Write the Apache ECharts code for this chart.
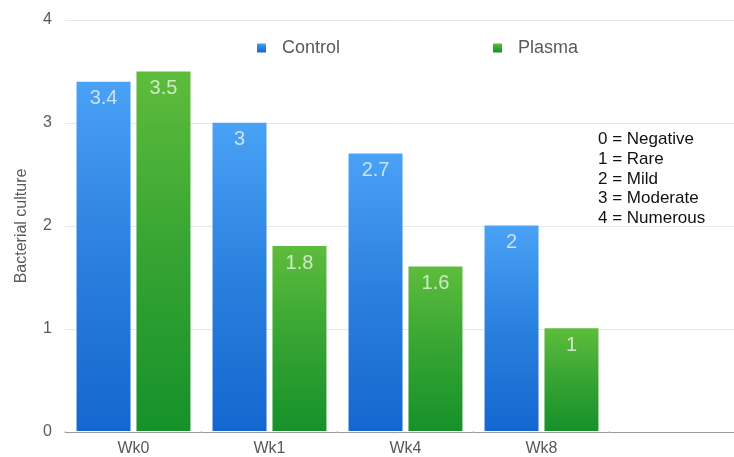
<!DOCTYPE html>
<html>
<head>
<meta charset="utf-8">
<script src="https://cdn.jsdelivr.net/npm/echarts@6/dist/echarts.min.js"></script>
<style>
  html, body { margin: 0; padding: 0; background: #fff; }
  #chart { width: 734px; height: 457px; }
</style>
</head>
<body>
<div id="chart"></div>
<script>
// Weeks of treatment
var categories = ['Wk0', 'Wk1', 'Wk4', 'Wk8'];
var controlValues = [3.4, 3, 2.7, 2];
var plasmaValues = [3.5, 1.8, 1.6, 1];
var yTicks = [0, 1, 2, 3, 4];
var scaleKey = ['0 = Negative', '1 = Rare', '2 = Mild', '3 = Moderate', '4 = Numerous'];

var FONT = '"Liberation Sans", Arial, Helvetica, sans-serif';
var LABEL_GREY = '#5a5a5a';

function grad(top, mid, bottom) {
  return new echarts.graphic.LinearGradient(0, 0, 0, 1, [
    { offset: 0, color: top },
    { offset: 0.5, color: mid },
    { offset: 1, color: bottom }
  ]);
}

var valueLabel = {
  show: true,
  position: 'insideTop',
  distance: 7,
  color: 'rgba(255,255,255,0.7)',
  fontFamily: FONT,
  fontSize: 20
};

var legendText = { fontFamily: FONT, fontSize: 18, color: LABEL_GREY, padding: [0, 0, 0, 11] };

var yMin = yTicks[0];
var yMax = yTicks[yTicks.length - 1];

var chart = echarts.init(document.getElementById('chart'), null, { renderer: 'canvas' });
chart.setOption({
  animation: false,
  backgroundColor: '#fff',
  // grid 0: full-width frame with value labels and gridlines
  // grid 1: the bar area, leaving an empty stretch on the right
  grid: [
    { left: 65, right: 0, top: 20, bottom: 25, containLabel: false },
    { left: 65.5, width: 544, top: 20, bottom: 25, containLabel: false }
  ],
  legend: [
    {
      data: ['Control'], left: 257, top: 39, padding: 0,
      icon: 'rect', itemWidth: 9, itemHeight: 9,
      textStyle: legendText
    },
    {
      data: ['Plasma'], left: 493, top: 39, padding: 0,
      icon: 'rect', itemWidth: 9, itemHeight: 9,
      textStyle: legendText
    }
  ],
  xAxis: [
    {
      gridIndex: 0,
      type: 'value',
      min: 0,
      max: 1,
      axisLine: { show: true, onZero: false, lineStyle: { color: '#9a9a9a', width: 1 } },
      axisTick: { show: false },
      axisLabel: { show: false },
      splitLine: { show: false }
    },
    {
      gridIndex: 1,
      type: 'category',
      data: categories,
      axisLine: { show: false },
      axisTick: { show: true, length: 2, lineStyle: { color: '#bbb' } },
      axisLabel: { fontFamily: FONT, fontSize: 16, color: LABEL_GREY, margin: 10 }
    }
  ],
  yAxis: [
    {
      gridIndex: 0,
      type: 'value',
      min: yMin,
      max: yMax,
      interval: 1,
      name: 'Bacterial culture',
      nameLocation: 'middle',
      nameGap: 35,
      nameTextStyle: { fontFamily: FONT, fontSize: 16, color: LABEL_GREY },
      axisLine: { show: false },
      axisTick: { show: false },
      axisLabel: { fontFamily: FONT, fontSize: 16, color: LABEL_GREY, margin: 13 },
      splitLine: { lineStyle: { color: '#e8e8e8', width: 1 } }
    },
    {
      gridIndex: 1,
      type: 'value',
      min: yMin,
      max: yMax,
      interval: 1,
      axisLine: { show: false },
      axisTick: { show: false },
      axisLabel: { show: false },
      splitLine: { show: false }
    }
  ],
  series: [
    {
      name: 'Control',
      type: 'bar',
      xAxisIndex: 1,
      yAxisIndex: 1,
      data: controlValues,
      barWidth: 54,
      barGap: '11%',
      itemStyle: { color: grad('#4aa2f6', '#2a80de', '#1467cf') },
      label: valueLabel
    },
    {
      name: 'Plasma',
      type: 'bar',
      xAxisIndex: 1,
      yAxisIndex: 1,
      data: plasmaValues,
      barWidth: 54,
      barGap: '11%',
      itemStyle: { color: grad('#5ebc3c', '#36a433', '#16912a') },
      label: valueLabel
    }
  ],
  graphic: [
    {
      type: 'text',
      left: 598,
      top: 129.5,
      style: {
        text: scaleKey.join('\n'),
        fontFamily: FONT,
        fontSize: 17,
        lineHeight: 19.8,
        fill: '#111'
      }
    }
  ]
});
</script>
</body>
</html>
